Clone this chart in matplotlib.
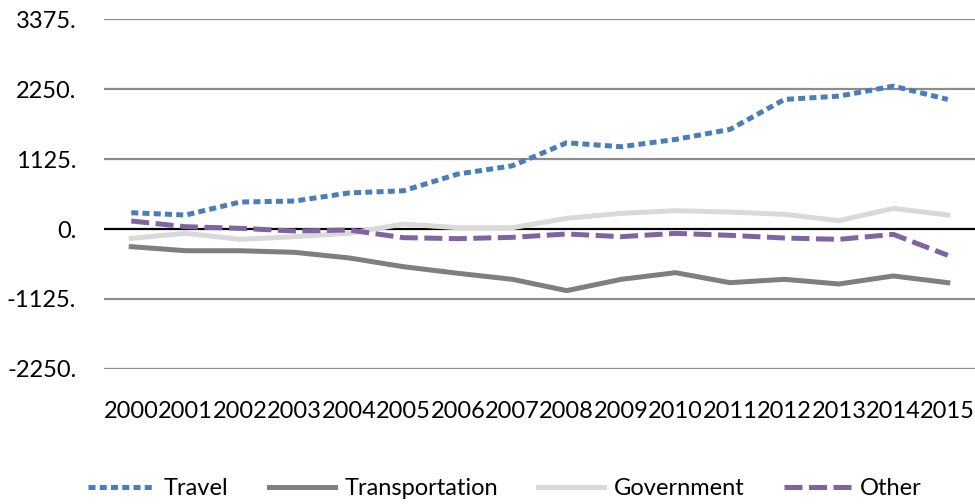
import matplotlib.pyplot as plt

plt.rcParams['font.family'] = ['Lato', 'DejaVu Sans']

# Data
years = ['2000', '2001', '2002', '2003', '2004', '2005', '2006', '2007',
         '2008', '2009', '2010', '2011', '2012', '2013', '2014', '2015']
travel = [262, 225, 434, 450, 580, 615, 884, 1017,
          1387, 1323, 1441, 1602, 2084, 2137, 2298, 2084]
transportation = [-284, -349, -349, -375, -465, -606, -712, -809,
                  -991, -809, -702, -863, -809, -884, -755, -863]
government = [-150, -70, -166, -123, -70, 80, 21, 21,
              172, 252, 294, 273, 236, 134, 332, 225]
other = [129, 37, 11, -32, -16, -139, -155, -134,
         -80, -123, -70, -102, -145, -166, -86, -423]
yticks = [-2250, -1125, 0, 1125, 2250, 3375]

fig = plt.figure(figsize=(9.75, 5.04), dpi=100)
ax = fig.add_axes([0.1067, 0.268, 0.8933, 0.694])

x = list(range(len(years)))
lw = 3.6
ax.plot(x, travel, color='#4A7EBB', lw=lw, dashes=(1.4, 0.85),
        dash_capstyle='butt', label='Travel', zorder=3)
ax.plot(x, transportation, color='#7F7F7F', lw=lw, label='Transportation', zorder=3)
ax.plot(x, government, color='#D9D9D9', lw=lw, label='Government', zorder=3)
ax.plot(x, other, color='#8064A2', lw=lw, dashes=(3.6, 1.3),
        dash_capstyle='butt', label='Other', zorder=4)

ax.set_xlim(-0.5, 15.5)
ax.set_ylim(-2250, 3375)
ax.set_yticks(yticks)
ax.set_yticklabels([f'{v}.' for v in yticks])
ax.set_xticks(x)
ax.set_xticklabels(years)

for v in yticks:
    if v != 0:
        ax.axhline(v, color='#8C8C8C', lw=1.6, zorder=1)
ax.axhline(0, color='black', lw=1.6, zorder=2)

for s in ax.spines.values():
    s.set_visible(False)
fs = 17
ax.tick_params(axis='both', length=0, labelsize=fs, colors='black')
ax.tick_params(axis='x', pad=23)
ax.tick_params(axis='y', pad=20)

fig.legend(loc='lower center', bbox_to_anchor=(0.518, -0.032), ncol=4,
           frameon=False, fontsize=fs, handlelength=2.8,
           columnspacing=1.7, handletextpad=0.4)

fig.savefig('out.png', dpi=100)
